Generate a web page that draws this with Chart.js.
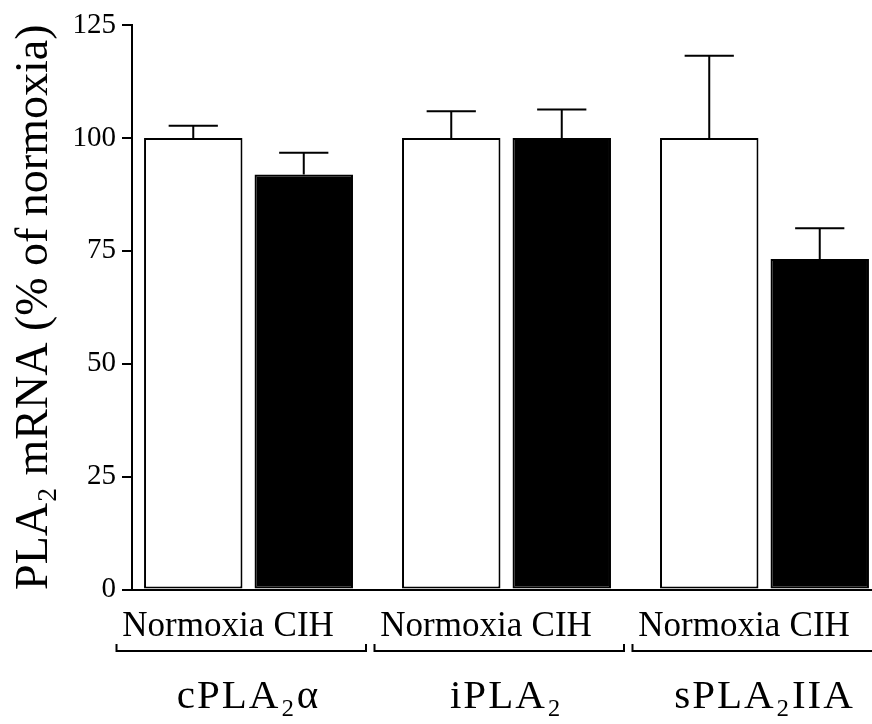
<!DOCTYPE html>
<html><head><meta charset="utf-8">
<script src="https://cdn.jsdelivr.net/npm/chart.js@4"></script>
<style>html,body{margin:0;padding:0;background:#fff;overflow:hidden}</style>
</head><body>
<canvas id="c" width="872" height="724"></canvas>
<script>
// ---- data ----
const groups = ['cPLA₂α', 'iPLA₂', 'sPLA₂IIA'];
const conditions = ['Normoxia', 'CIH'];
const normoxiaMean = [100, 100, 100];
const normoxiaSem = [2.7, 5.9, 18.2];
const cihMean = [91.9, 100, 73.2];
const cihSem = [4.8, 6.3, 6.8];
const yTicks = [0, 25, 50, 75, 100, 125];
const yTitle = 'PLA₂ mRNA (% of normoxia)';

// ---- layout / style ----
const FONT = 'Liberation Serif, Times New Roman, serif';
const CP = 0.8566, BP = 0.891;
const X_MIN = -0.4516, X_MAX = 2.4167;
const groupPos = groups.map((_, i) => i);
const barTickVals = [];
groupPos.forEach(g => { barTickVals.push(g - CP / 4, g + CP / 4); });

const errorBars = {
  id: 'errorBars',
  afterDatasetsDraw(chart) {
    const ctx = chart.ctx, y = chart.scales.y;
    chart.data.datasets.forEach((ds, di) => {
      const meta = chart.getDatasetMeta(di);
      meta.data.forEach((bar, i) => {
        const v = ds.data[i].y, e = ds.errors[i];
        const base = y.getPixelForValue(v), top = y.getPixelForValue(v + e);
        const half = bar.width / 4;
        ctx.save();
        ctx.strokeStyle = '#000'; ctx.lineWidth = 2;
        ctx.beginPath();
        ctx.moveTo(bar.x, base); ctx.lineTo(bar.x, top);
        ctx.moveTo(bar.x - half, top); ctx.lineTo(bar.x + half, top);
        ctx.stroke();
        ctx.restore();
      });
    });
    // slightly wider letter spacing for the group labels (their tick layer is drawn after this, z:1)
    ctx.letterSpacing = '2px';
  }
};

const brackets = {
  id: 'brackets',
  afterDraw(chart) {
    const ctx = chart.ctx, s = chart.scales.xGroup;
    ctx.letterSpacing = '0px';
    const yb = s.top + 6.5, yt = s.top - 0.5;
    ctx.save();
    ctx.strokeStyle = '#000'; ctx.lineWidth = 2;
    groupPos.forEach(g => {
      const l = s.getPixelForValue(g - 0.5) - 3;
      const r = s.getPixelForValue(g + 0.5) - 11.5;
      ctx.beginPath();
      ctx.moveTo(l, yt); ctx.lineTo(l, yb); ctx.lineTo(r, yb); ctx.lineTo(r, yt);
      ctx.stroke();
    });
    ctx.restore();
  }
};

const fitX = h => a => { a.height = h; a.paddingLeft = 0; a.paddingRight = 0; };

new Chart(document.getElementById('c'), {
  type: 'bar',
  data: {
    datasets: [
      { label: conditions[0], data: normoxiaMean.map((v, i) => ({ x: groupPos[i], y: v })), errors: normoxiaSem,
        backgroundColor: '#fff', borderColor: '#000', borderWidth: 2, borderSkipped: false },
      { label: conditions[1], data: cihMean.map((v, i) => ({ x: groupPos[i], y: v })), errors: cihSem,
        backgroundColor: '#000', borderColor: '#000', borderWidth: 2, borderSkipped: false }
    ]
  },
  options: {
    responsive: false, animation: false, devicePixelRatio: 1,
    layout: { padding: { top: 25, right: 0, left: 0, bottom: 0 } },
    plugins: { legend: { display: false }, tooltip: { enabled: false } },
    datasets: { bar: { categoryPercentage: CP, barPercentage: BP } },
    scales: {
      x: { type: 'linear', display: false, offset: false, grid: { offset: false }, min: X_MIN, max: X_MAX,
        afterBuildTicks: a => { a.ticks = groupPos.map(v => ({ value: v })); } },
      xBar: { type: 'linear', position: 'bottom', weight: 1, offset: false, min: X_MIN, max: X_MAX,
        afterBuildTicks: a => { a.ticks = barTickVals.map(v => ({ value: v })); },
        ticks: { autoSkip: false, maxRotation: 0, padding: 16, color: '#000',
          font: { family: FONT, size: 35, lineHeight: 1.2 },
          callback: (v, i) => conditions[i % 2] },
        grid: { display: false, drawTicks: false, offset: false },
        border: { display: true, color: '#000', width: 2 },
        afterFit: fitX(55) },
      xGroup: { type: 'linear', position: 'bottom', weight: 2, offset: false, min: X_MIN, max: X_MAX,
        afterBuildTicks: a => { a.ticks = groupPos.map(v => ({ value: v })); },
        ticks: { z: 1, autoSkip: false, maxRotation: 0, padding: 28, color: '#000',
          font: { family: FONT, size: 41, lineHeight: 1.2 },
          callback: (v, i) => groups[i] },
        grid: { display: false, drawTicks: false, offset: false },
        border: { display: false },
        afterFit: fitX(79.5) },
      y: { min: 0, max: 125,
        afterBuildTicks: a => { a.ticks = yTicks.map(v => ({ value: v })); },
        ticks: { padding: 6, color: '#000', font: { family: FONT, size: 29, lineHeight: 1.2 } },
        grid: { display: true, drawOnChartArea: false, drawTicks: true, tickLength: 10, color: '#000', lineWidth: 2 },
        border: { display: true, color: '#000', width: 2 },
        title: { display: true, text: yTitle, color: '#000', padding: { top: 7.4, bottom: 0 },
          font: { family: FONT, size: 46, lineHeight: 1.2 } },
        afterFit: a => { a.width = 132; } }
    }
  },
  plugins: [errorBars, brackets]
});
</script>
</body></html>
